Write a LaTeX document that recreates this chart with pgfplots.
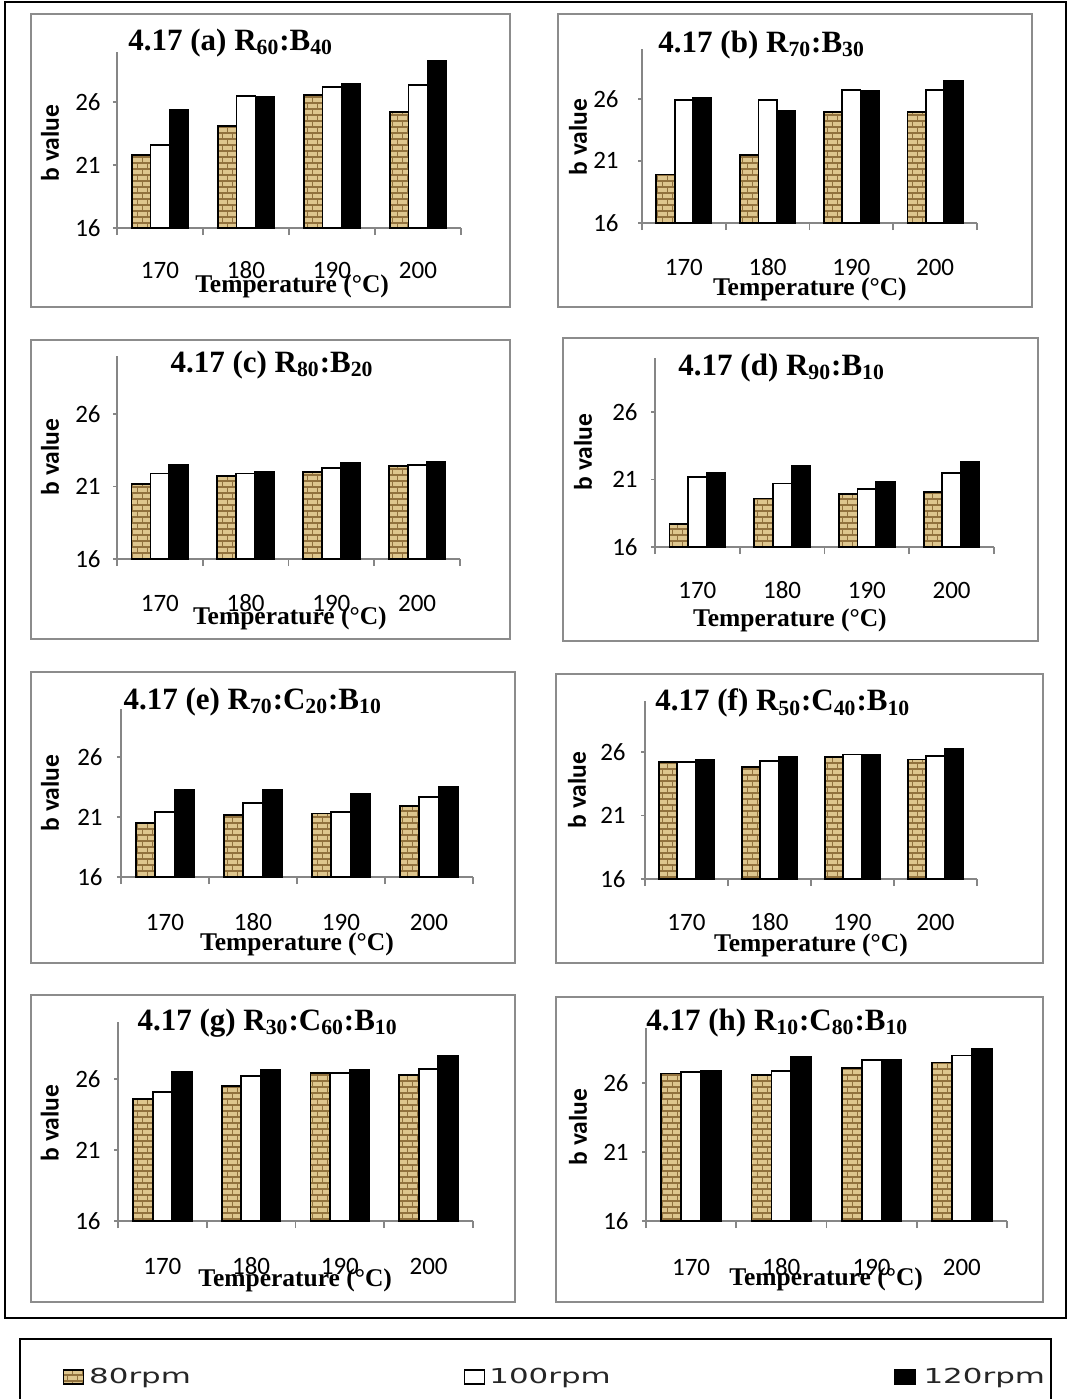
\documentclass[border=0pt]{standalone}
\usepackage{fontspec}
\usepackage{pgfplots}
\pgfplotsset{compat=1.18}
\usepackage{pgfplotstable}
\usetikzlibrary{patterns.meta}
\setmainfont{Liberation Serif}
\newfontfamily\calfont{Carlito}
\newfontfamily\legfont[FakeStretch=1.5]{DejaVu Sans}

\definecolor{sand}{RGB}{222,198,142}
\definecolor{sanddark}{RGB}{146,114,62}
\definecolor{axisgray}{RGB}{134,134,134}
\definecolor{framegray}{RGB}{140,140,140}
\definecolor{bevel}{RGB}{85,85,85}

% small woven texture for the 80 rpm bars
\tikzdeclarepattern{
  name=weave,
  type=uncolored,
  bottom left={(-0.5pt,-0.5pt)},
  top right={(5.5pt,6.5pt)},
  tile size={(5pt,6pt)},
  code={
    \pgfsetlinewidth{0.7pt}
    \pgfpathmoveto{\pgfpoint{0pt}{0pt}}\pgfpathlineto{\pgfpoint{5pt}{0pt}}
    \pgfpathmoveto{\pgfpoint{0pt}{3pt}}\pgfpathlineto{\pgfpoint{5pt}{3pt}}
    \pgfpathmoveto{\pgfpoint{1.2pt}{0pt}}\pgfpathlineto{\pgfpoint{1.2pt}{3pt}}
    \pgfpathmoveto{\pgfpoint{3.7pt}{3pt}}\pgfpathlineto{\pgfpoint{3.7pt}{6pt}}
    \pgfusepath{stroke}
  }
}

% b value at 80, 100 and 120 rpm for each blend (rows: 170, 180, 190, 200 C)
\pgfplotstableread{
x r80 r100 r120
0 21.8 22.6 25.4
1 24.1 26.5 26.4
2 26.6 27.2 27.5
3 25.2 27.4 29.3
}\tblA
\pgfplotstableread{
x r80 r100 r120
0 19.9 25.9 26.1
1 21.5 25.9 25.0
2 24.9 26.7 26.6
3 24.9 26.7 27.4
}\tblB
\pgfplotstableread{
x r80 r100 r120
0 21.2 21.9 22.5
1 21.7 21.9 22.0
2 22.0 22.3 22.6
3 22.4 22.5 22.7
}\tblC
\pgfplotstableread{
x r80 r100 r120
0 17.7 21.2 21.5
1 19.6 20.7 22.0
2 19.9 20.3 20.8
3 20.1 21.5 22.3
}\tblD
\pgfplotstableread{
x r80 r100 r120
0 20.5 21.4 23.3
1 21.2 22.2 23.3
2 21.3 21.4 22.9
3 21.9 22.7 23.5
}\tblE
\pgfplotstableread{
x r80 r100 r120
0 25.2 25.2 25.4
1 24.8 25.3 25.6
2 25.6 25.8 25.8
3 25.4 25.7 26.2
}\tblF
\pgfplotstableread{
x r80 r100 r120
0 24.6 25.1 26.5
1 25.5 26.2 26.6
2 26.4 26.4 26.6
3 26.3 26.7 27.6
}\tblG
\pgfplotstableread{
x r80 r100 r120
0 26.7 26.8 26.9
1 26.6 26.9 27.9
2 27.1 27.7 27.7
3 27.5 28.0 28.5
}\tblH

\pgfplotsset{
  r80/.style={draw=black, line width=0.9pt, fill=sand,
    postaction={pattern={weave}, pattern color=sanddark}},
  r100/.style={draw=black, line width=0.9pt, fill=white},
  r120/.style={draw=black, line width=0.9pt, fill=black},
  r120bar/.style={r120,
    postaction={path picture={\fill[bevel]
      ([xshift=-3.6pt,yshift=-0.5pt]path picture bounding box.north) --
      ([xshift=3.6pt,yshift=-0.5pt]path picture bounding box.north) --
      ([yshift=-3.5pt]path picture bounding box.north) -- cycle;}}},
  panel/.style={
    scale only axis, anchor=south west,
    ybar=0pt, bar width=0.22,
    xmin=-0.5, xmax=3.5, ymin=16, ymax=30,
    xtick={0,1,2,3}, xticklabels={170,180,190,200},
    minor xtick={-0.5,0.5,1.5,2.5,3.5},
    ytick={16,21,26},
    axis x line*=bottom, axis y line*=left,
    axis line style={axisgray, line width=0.9pt},
    major x tick style={draw=none},
    minor x tick style={axisgray, line width=0.9pt},
    major y tick style={axisgray, line width=0.9pt},
    tick align=outside, major tick length=2pt, minor tick length=3.5pt,
    /pgf/number format/assume math mode=true,
    ticklabel style={font=\calfont\fontsize{12.5}{14}\selectfont, text=black},
    xticklabel style={anchor=base, inner sep=0pt},
    yticklabel style={anchor=east, inner sep=0pt},
    xlabel={Temperature (°C)}, ylabel={b value},
    every axis x label/.style={font=\bfseries\fontsize{12.75}{15}\selectfont,
      anchor=base, inner sep=0pt},
    every axis y label/.style={font=\calfont\bfseries\fontsize{12.75}{15}\selectfont,
      rotate=90, anchor=center, inner sep=0pt},
    every axis title/.style={font=\bfseries\fontsize{15.5}{18}\selectfont,
      anchor=west, inner sep=0pt},
  },
}

\newcommand\bars[1]{%
  \addplot[r80]     table[x=x, y=r80]  {#1};
  \addplot[r100]    table[x=x, y=r100] {#1};
  \addplot[r120bar] table[x=x, y=r120] {#1};
}

\begin{document}
\begin{tikzpicture}
\useasboundingbox (0pt,0pt) rectangle (534pt,-699.5pt);

% outer frame and chart-area frames
\draw[black, line width=1pt] (2.5pt,-1pt) rectangle (533pt,-659pt);
\begin{scope}[framegray, line width=1pt]
\draw (15.5pt,-7pt)    rectangle (255pt,-153.5pt);
\draw (279pt,-7pt)     rectangle (516pt,-153.5pt);
\draw (15.5pt,-170pt)  rectangle (255pt,-319.5pt);
\draw (281.5pt,-169pt) rectangle (519pt,-320.5pt);
\draw (15.5pt,-336pt)  rectangle (257.5pt,-481.5pt);
\draw (278pt,-337pt)   rectangle (521.5pt,-481.5pt);
\draw (15.5pt,-497.5pt) rectangle (257.5pt,-651pt);
\draw (278pt,-498.5pt)  rectangle (521.5pt,-651pt);
\end{scope}
% legend frame
\draw[black, line width=0.8pt] (10pt,-705pt) -- (10pt,-669.5pt) -- (525.5pt,-669.5pt) -- (525.5pt,-705pt);

% (a)
\begin{axis}[panel, at={(58.5pt,-114pt)}, width=172pt, height=88pt,
  xticklabel style={yshift=-23.25pt}, yticklabel style={xshift=-6pt},
  xlabel style={at={(axis description cs:0.509,-0.364)}},
  ylabel style={at={(axis description cs:-0.195,0.483)}},
  title={4.17 (a) R\textsubscript{60}:B\textsubscript{40}},
  title style={at={(axis description cs:0.032,1.051)}}]
\bars{\tblA}
\end{axis}

% (b)
\begin{axis}[panel, at={(321pt,-111.5pt)}, width=167.5pt, height=87pt,
  xticklabel style={yshift=-24.25pt}, yticklabel style={xshift=-9.5pt},
  xlabel style={at={(axis description cs:0.501,-0.414)}},
  ylabel style={at={(axis description cs:-0.191,0.494)}},
  title={4.17 (b) R\textsubscript{70}:B\textsubscript{30}},
  title style={at={(axis description cs:0.048,1.023)}}]
\bars{\tblB}
\end{axis}

% (c)
\begin{axis}[panel, at={(58.5pt,-279.5pt)}, width=171.5pt, height=101.5pt,
  xticklabel style={yshift=-24.25pt}, yticklabel style={xshift=-6pt},
  xlabel style={at={(axis description cs:0.504,-0.325)}},
  ylabel style={at={(axis description cs:-0.195,0.502)}},
  title={4.17 (c) R\textsubscript{80}:B\textsubscript{20}},
  title style={at={(axis description cs:0.155,0.956)}}]
\bars{\tblC}
\end{axis}

% (d)
\begin{axis}[panel, at={(327.5pt,-273.5pt)}, width=169.5pt, height=94.5pt,
  xticklabel style={yshift=-23.75pt}, yticklabel style={xshift=-6.5pt},
  xlabel style={at={(axis description cs:0.398,-0.423)}},
  ylabel style={at={(axis description cs:-0.212,0.503)}},
  title={4.17 (d) R\textsubscript{90}:B\textsubscript{10}},
  title style={at={(axis description cs:0.068,0.947)}}]
\bars{\tblD}
\end{axis}

% (e)
\begin{axis}[panel, at={(60.5pt,-438.5pt)}, width=176pt, height=84pt,
  xticklabel style={yshift=-24.75pt}, yticklabel style={xshift=-7pt},
  xlabel style={at={(axis description cs:0.5,-0.435)}},
  ylabel style={at={(axis description cs:-0.202,0.5)}},
  title={4.17 (e) R\textsubscript{70}:C\textsubscript{20}:B\textsubscript{10}},
  title style={at={(axis description cs:0.006,1.042)}}]
\bars{\tblE}
\end{axis}

% (f)
\begin{axis}[panel, at={(322.5pt,-439.5pt)}, width=166pt, height=89pt,
  xticklabel style={yshift=-23.75pt}, yticklabel style={xshift=-7.5pt},
  xlabel style={at={(axis description cs:0.5,-0.410)}},
  ylabel style={at={(axis description cs:-0.205,0.5)}},
  title={4.17 (f) R\textsubscript{50}:C\textsubscript{40}:B\textsubscript{10}},
  title style={at={(axis description cs:0.030,0.989)}}]
\bars{\tblF}
\end{axis}

% (g)
\begin{axis}[panel, at={(59pt,-610.5pt)}, width=177.5pt, height=99.5pt,
  xticklabel style={yshift=-24.75pt}, yticklabel style={xshift=-6.5pt},
  xlabel style={at={(axis description cs:0.499,-0.327)}},
  ylabel style={at={(axis description cs:-0.192,0.492)}},
  title={4.17 (g) R\textsubscript{30}:C\textsubscript{60}:B\textsubscript{10}},
  title style={at={(axis description cs:0.054,0.995)}}]
\bars{\tblG}
\end{axis}

% (h)
\begin{axis}[panel, at={(323pt,-610.5pt)}, width=180.5pt, height=96.5pt,
  xticklabel style={yshift=-25.25pt}, yticklabel style={xshift=-6.5pt},
  xlabel style={at={(axis description cs:0.499,-0.332)}},
  ylabel style={at={(axis description cs:-0.188,0.487)}},
  title={4.17 (h) R\textsubscript{10}:C\textsubscript{80}:B\textsubscript{10}},
  title style={at={(axis description cs:0,1.026)}}]
\bars{\tblH}
\end{axis}

% shared legend
\begin{axis}[at={(31.5pt,-688.5pt)}, anchor=west, scale only axis,
  width=10pt, height=10pt, hide axis, xmin=0, xmax=1, ymin=0, ymax=1,
  legend columns=3,
  legend style={draw=none, fill=none, inner sep=0pt, outer sep=0pt,
    at={(0,0.5)}, anchor=west, column sep=0pt,
    font=\legfont\fontsize{10.3}{12}\selectfont, text=black!85,
    nodes={inner sep=0pt}},
  legend image code/.code={\draw[#1, line width=0.6pt] (0pt,-3.5pt) rectangle (10pt,3.5pt);}]
\addlegendimage{r80}
\addlegendentry{\makebox[190pt][l]{\hspace{2.5pt}80rpm}}
\addlegendimage{r100}
\addlegendentry{\makebox[204.5pt][l]{\hspace{2pt}100rpm}}
\addlegendimage{r120}
\addlegendentry{\hspace{4pt}120rpm}
\end{axis}
\end{tikzpicture}
\end{document}
